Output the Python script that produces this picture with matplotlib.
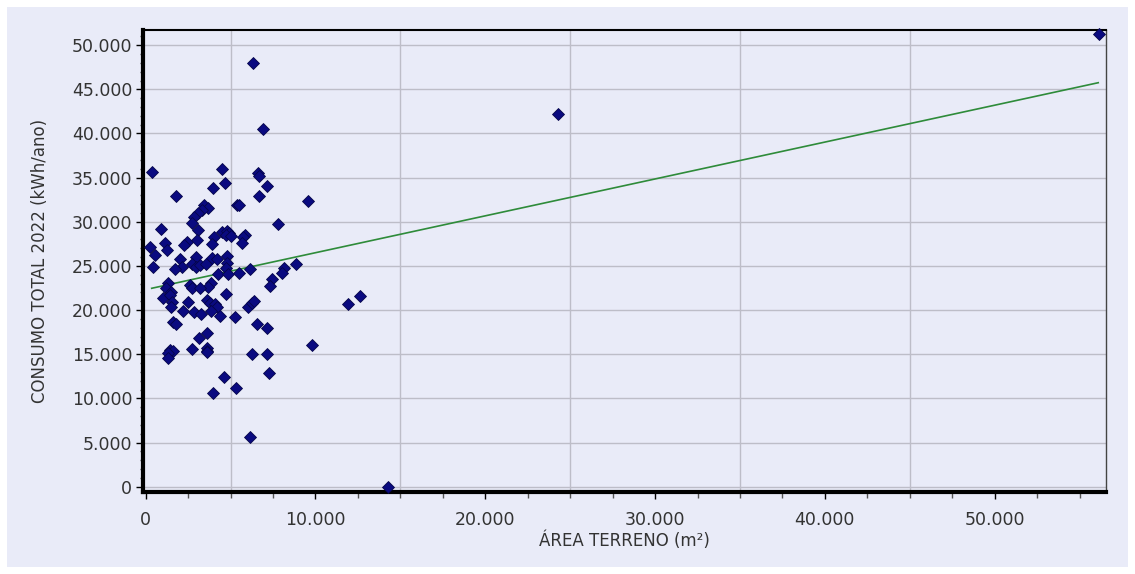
import numpy as np
import matplotlib
matplotlib.use('Agg')
import matplotlib.pyplot as plt
from matplotlib.ticker import MultipleLocator, FuncFormatter
from matplotlib.patches import Rectangle

# area terreno (m2) x consumo total 2022 (kWh/ano)
area = [6340, 6890, 350, 4480, 4670, 3980, 6630, 6690, 7160, 6690,
        1785, 9576, 5360, 5510, 3450, 3690, 3300, 3100, 2860, 2710,
        7810, 900, 3060, 4480, 4770, 4920, 4730, 5010, 4020, 3890,
        5850, 5710, 5650, 3040, 2450, 2260, 1140, 1240, 250, 550,
        4810, 2020, 2120, 3890, 4180, 2960, 2710, 4770, 4730, 8850,
        8140, 8010, 450, 1730, 6140, 5510, 4240, 4860, 2960, 3200,
        3550, 7420, 7320, 3830, 3690, 1330, 1200, 1490, 2610, 2710,
        3200, 4730, 1040, 1430, 1530, 1470, 2510, 2210, 2860, 3260,
        3590, 3790, 4080, 4220, 3850, 4380, 5260, 6040, 6240, 6380,
        11930, 12620, 1590, 1780, 6540, 7160, 3630, 3160, 9780, 1430,
        1630, 1330, 1330, 2710, 3590, 3630, 3590, 6240, 7160, 7280,
        4630, 5300, 3980, 6140, 14290, 24280, 56140]
consumo = [48020, 40480, 35670, 35980, 34430, 33860, 35490, 35190, 34050, 32920,
           32920, 32390, 31900, 31870, 31900, 31530, 31340, 30960, 30580, 29900,
           29720, 29180, 29070, 28880, 28960, 28700, 28500, 28390, 28310, 27450,
           28500, 28240, 27560, 27940, 27750, 27370, 27560, 26810, 27180, 26240,
           26160, 25750, 24920, 25870, 25750, 25980, 25220, 25300, 24730, 25220,
           24730, 24240, 24920, 24620, 24620, 24170, 24090, 24090, 24920, 25110,
           25220, 23520, 22760, 23100, 22650, 23030, 22470, 22080, 22840, 22470,
           22470, 21820, 21340, 21710, 20950, 20320, 20880, 19930, 19750, 19560,
           21140, 20770, 20690, 20390, 19930, 19330, 19250, 20390, 20770, 21030,
           20690, 21600, 18690, 18430, 18430, 18010, 17370, 16840, 16050, 15480,
           15370, 15110, 14610, 15560, 15740, 15400, 15220, 14990, 15030, 12840,
           12460, 11210, 10650, 5660, 0, 42210, 51230]

# linha de tendencia (pontos extremos)
tend_x = [353, 56100]
tend_y = [22470, 45750]

bg = '#e9ebf8'
txt = '#333333'
fmt = FuncFormatter(lambda v, p: f'{int(round(v)):,}'.replace(',', '.'))

fig = plt.figure(figsize=(11.35, 5.74), dpi=100)
fig.patch.set_facecolor('white')
painel = Rectangle((7/1135, 7/574), 1121/1135, 560/574,
                   transform=fig.transFigure, facecolor=bg,
                   edgecolor='none', zorder=-10)
fig.add_artist(painel)

ax = fig.add_axes([143.3/1135, 1 - 491.7/574, (1105.7-143.3)/1135, (491.7-30)/574])
ax.set_facecolor(bg)
ax.set_zorder(1)

for v in np.arange(0, 50001, 5000):
    ax.axhline(v, color='#bdbdc8', lw=1, zorder=1)
for v in np.arange(5000, 50000, 10000):
    ax.axvline(v, color='#bdbdc8', lw=1, zorder=1)

ax.plot(tend_x, tend_y, color='#2e8b3a', lw=1.2, zorder=2)
ax.plot(area, consumo, linestyle='none', marker='D', markersize=6,
        markerfacecolor='#0a0a80', markeredgecolor='#05054a',
        markeredgewidth=0.6, zorder=3, clip_on=False)

ax.set_xlim(-141, 56540)
ax.set_ylim(-566, 51720)

ax.xaxis.set_major_locator(MultipleLocator(10000))
ax.xaxis.set_minor_locator(MultipleLocator(2500))
ax.yaxis.set_major_locator(MultipleLocator(5000))
ax.yaxis.set_minor_locator(MultipleLocator(1000))
ax.xaxis.set_major_formatter(fmt)
ax.yaxis.set_major_formatter(fmt)

ax.tick_params(axis='both', which='major', labelsize=12.5, colors='black',
               labelcolor=txt, length=5, width=1, direction='out')
ax.tick_params(axis='x', which='major', pad=9)
ax.tick_params(axis='y', which='major', pad=3)
ax.tick_params(axis='x', which='minor', length=4, width=1, color='#555555')
ax.tick_params(axis='y', which='minor', length=2.5, width=1, color='#555555')

ax.spines['left'].set_linewidth(3)
ax.spines['bottom'].set_linewidth(3)
ax.spines['top'].set_linewidth(1.5)
ax.spines['right'].set_linewidth(1)
ax.spines['right'].set_color('#444444')

ax.set_xlabel('ÁREA TERRENO (m²)', fontsize=12, color=txt, labelpad=2)
ax.set_ylabel('CONSUMO TOTAL 2022 (kWh/ano)', fontsize=12, color=txt, labelpad=16)

fig.savefig('out.png', dpi=100, facecolor=fig.get_facecolor())
